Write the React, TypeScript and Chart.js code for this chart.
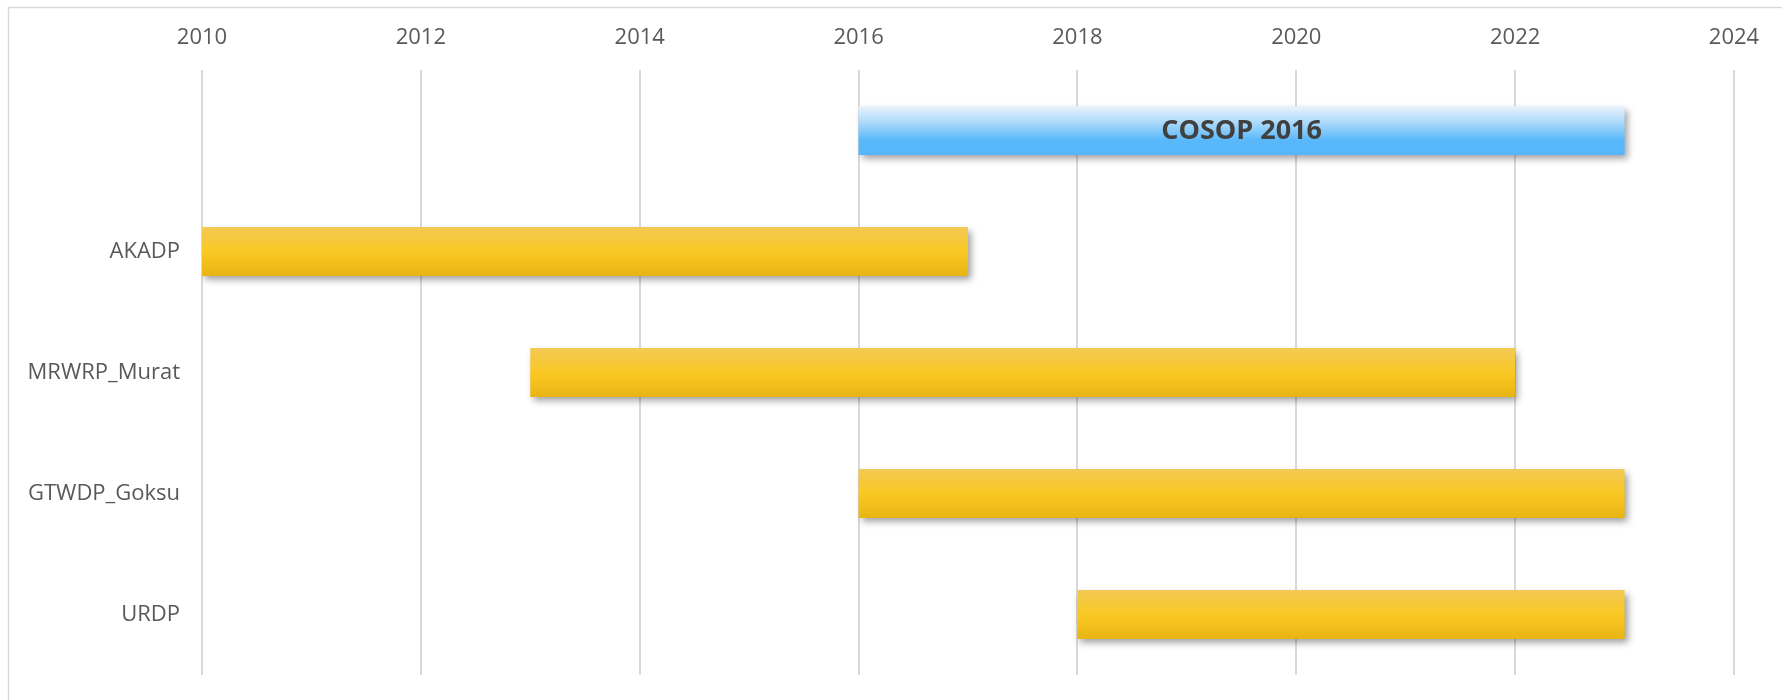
import React, { useEffect, useRef } from 'react';
import { Chart, registerables } from 'chart.js';

Chart.register(...registerables);

// ---- data ----
const categories = ['', 'AKADP', 'MRWRP_Murat', 'GTWDP_Goksu', 'URDP'];
const barLabels = ['COSOP 2016', '', '', '', ''];
const startYears = [2016, 2010, 2013, 2016, 2018];
const endYears = [2023, 2017, 2022, 2023, 2023];
const barKinds = ['cosop', 'project', 'project', 'project', 'project'];
const yearMin = 2010;
const yearMax = 2024;
const yearStep = 2;

const BAR_PCT = 0.405;
const FONT = '"Open Sans", "DejaVu Sans", sans-serif';

function makeGradient(chart: any, index: number, kind: string) {
  const area = chart.chartArea;
  const ys = chart.scales && chart.scales.y;
  if (!area || !ys) return kind === 'cosop' ? '#7cc5fb' : '#f7c42a';
  const c = ys.getPixelForValue(index);
  const h = ((area.bottom - area.top) / categories.length) * BAR_PCT;
  const g = chart.ctx.createLinearGradient(0, c - h / 2, 0, c + h / 2);
  if (kind === 'cosop') {
    g.addColorStop(0, '#eaf4fd');
    g.addColorStop(0.35, '#a9d8fb');
    g.addColorStop(0.7, '#58b8fa');
    g.addColorStop(1, '#56b6fa');
  } else {
    g.addColorStop(0, '#f2c955');
    g.addColorStop(0.5, '#fac823');
    g.addColorStop(1, '#e8b413');
  }
  return g;
}

const framePlugin = {
  id: 'frame',
  beforeDraw(chart: any) {
    const c = chart.ctx;
    c.save();
    c.strokeStyle = '#d9d9d9';
    c.lineWidth = 1.5;
    c.beginPath();
    c.moveTo(8.5, chart.height);
    c.lineTo(8.5, 7.5);
    c.lineTo(chart.width, 7.5);
    c.stroke();
    c.restore();
  },
};

const shadowLabelPlugin = {
  id: 'shadowLabel',
  beforeDatasetsDraw(chart: any) {
    const c = chart.ctx;
    c.save();
    c.shadowColor = 'rgba(0,0,0,0.38)';
    c.shadowBlur = 7;
    c.shadowOffsetX = 3;
    c.shadowOffsetY = 4;
  },
  afterDatasetsDraw(chart: any) {
    const c = chart.ctx;
    c.restore();
    const meta = chart.getDatasetMeta(0);
    c.save();
    c.font = `bold 27px ${FONT}`;
    c.fillStyle = '#404040';
    c.textAlign = 'center';
    c.textBaseline = 'middle';
    meta.data.forEach((el: any, i: number) => {
      const t = barLabels[i];
      if (!t) return;
      const cx = (el.x + el.base) / 2;
      c.fillText(t, cx, el.y + 1);
    });
    c.restore();
  },
};

export default function App() {
  const ref = useRef<HTMLCanvasElement | null>(null);

  useEffect(() => {
    if (!ref.current) return;
    const chart = new Chart(ref.current, {
      type: 'bar',
      data: {
        labels: categories,
        datasets: [
          {
            data: startYears.map((s, i) => [s, endYears[i]]) as any,
            backgroundColor: (ctx: any) => {
              if (ctx.dataIndex === undefined) return '#f7c42a';
              return makeGradient(ctx.chart, ctx.dataIndex, barKinds[ctx.dataIndex]);
            },
            borderWidth: 0,
            borderSkipped: false,
            barPercentage: BAR_PCT,
            categoryPercentage: 1,
          },
        ],
      },
      options: {
        indexAxis: 'y',
        animation: false,
        responsive: true,
        maintainAspectRatio: false,
        layout: { padding: { top: 0, left: 0, right: 48, bottom: 25 } },
        plugins: {
          legend: { display: false },
          tooltip: { enabled: false },
        },
        scales: {
          x: {
            type: 'linear',
            position: 'top',
            min: yearMin,
            max: yearMax,
            ticks: {
              stepSize: yearStep,
              padding: 19,
              color: '#595959',
              font: { family: FONT, size: 22 },
              callback: (v: any) => String(v),
            },
            grid: {
              color: '#d9d9d9',
              lineWidth: 2,
              drawTicks: false,
            },
            border: { display: false },
            afterFit: (s: any) => {
              s.height = 70;
              s.paddingLeft = 0;
              s.paddingRight = 0;
            },
          },
          y: {
            type: 'category',
            offset: true,
            ticks: {
              padding: 22,
              color: '#595959',
              font: { family: FONT, size: 22 },
            },
            grid: { display: false, drawTicks: false },
            border: { display: false },
            afterFit: (s: any) => {
              s.width = 202;
              s.paddingTop = 0;
              s.paddingBottom = 0;
            },
          },
        },
      } as any,
      plugins: [framePlugin, shadowLabelPlugin],
    });
    return () => chart.destroy();
  }, []);

  return (
    <div
      style={{
        position: 'fixed',
        left: 0,
        top: 0,
        width: 1782,
        height: 700,
        overflow: 'hidden',
        background: '#ffffff',
      }}
    >
      <canvas ref={ref} />
    </div>
  );
}
